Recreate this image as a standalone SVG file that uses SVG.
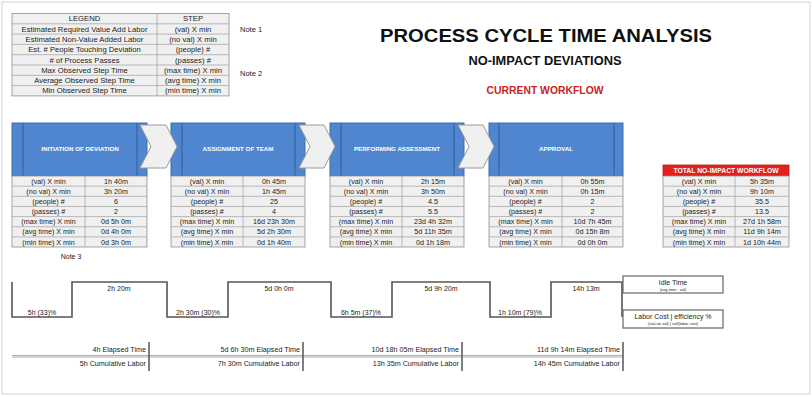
<svg xmlns="http://www.w3.org/2000/svg" width="812" height="397" viewBox="0 0 812 397">
<style>
text{font-family:"Liberation Sans",Arial,sans-serif;fill:#222}
.t{font-size:7.2px;text-anchor:middle}
.lg{font-size:7.7px;text-anchor:middle}
.r{font-size:7.2px;text-anchor:end}
.hd{font-size:6.2px;font-weight:bold;fill:#fff;text-anchor:middle}
.cell{fill:#f0f0f0;stroke:#8f8f8f;stroke-width:0.8}
.grid{stroke:#a8a8a8;stroke-width:0.8;fill:none}
.blue{fill:#4f86cf;stroke:#3b6fb2;stroke-width:1}
.bin{stroke:#2f5f9e;stroke-width:1}
.chev{fill:#f0f0f0;stroke:#9a9a9a;stroke-width:1}
.wave{fill:none;stroke:#555;stroke-width:1.6}
.box{fill:#fff;stroke:#666;stroke-width:1.2}
</style>
<rect x="2" y="2" width="808" height="392" fill="#fff" stroke="#d4d4d4" stroke-width="1"/>

<g id="legend">
<rect class="cell" x="12" y="13.5" width="217" height="82.4"/>
<path class="grid" d="M12 23.8H229M12 34.1H229M12 44.4H229M12 54.7H229M12 65H229M12 75.3H229M12 85.6H229M157 13.5V95.9"/>
<text class="lg" x="84.5" y="21.3">LEGEND</text><text class="lg" x="193" y="21.3">STEP</text>
<text class="lg" x="84.5" y="31.6">Estimated Required Value Add Labor</text><text class="lg" x="193" y="31.6">(val) X min</text>
<text class="lg" x="84.5" y="41.9">Estimated Non-Value Added Labor</text><text class="lg" x="193" y="41.9">(no val) X min</text>
<text class="lg" x="84.5" y="52.2">Est. # People Touching Deviation</text><text class="lg" x="193" y="52.2">(people) #</text>
<text class="lg" x="84.5" y="62.5"># of Process Passes</text><text class="lg" x="193" y="62.5">(passes) #</text>
<text class="lg" x="84.5" y="72.8">Max Observed Step Time</text><text class="lg" x="193" y="72.8">(max time) X min</text>
<text class="lg" x="84.5" y="83.1">Average Observed Step Time</text><text class="lg" x="193" y="83.1">(avg time)  X min</text>
<text class="lg" x="84.5" y="93.4">Min Observed Step Time</text><text class="lg" x="193" y="93.4">(min time) X min</text>
<text x="240" y="32" style="font-size:7.5px">Note 1</text>
<text x="240" y="76" style="font-size:7.5px">Note 2</text>
</g>

<g id="title">
<text x="546" y="42" textLength="332" lengthAdjust="spacingAndGlyphs" style="font-size:18.5px;font-weight:bold;text-anchor:middle;fill:#111">PROCESS CYCLE TIME ANALYSIS</text>
<text x="545" y="65" textLength="153" lengthAdjust="spacingAndGlyphs" style="font-size:12px;font-weight:bold;text-anchor:middle;fill:#111">NO-IMPACT DEVIATIONS</text>
<text x="545" y="94" textLength="117" lengthAdjust="spacingAndGlyphs" style="font-size:10px;font-weight:bold;text-anchor:middle;fill:#cc2222">CURRENT WORKFLOW</text>
</g>

<g id="step1">
<rect class="blue" x="12" y="123" width="135" height="53"/>
<path class="bin" d="M23 123V176M137 123V176"/>
<text class="hd" x="80" y="151">INITIATION OF DEVIATION</text>
<rect class="cell" x="12" y="176" width="135" height="71"/>
<path class="grid" d="M12 186.15H147M12 196.3H147M12 206.45H147M12 216.6H147M12 226.75H147M12 236.9H147M85 176V247"/>
<text class="t" x="48.5" y="183.6">(val) X min</text><text class="t" x="116" y="183.6">1h 40m</text>
<text class="t" x="48.5" y="193.75">(no val) X min</text><text class="t" x="116" y="193.75">3h 20m</text>
<text class="t" x="48.5" y="203.9">(people) #</text><text class="t" x="116" y="203.9">6</text>
<text class="t" x="48.5" y="214.05">(passes) #</text><text class="t" x="116" y="214.05">2</text>
<text class="t" x="48.5" y="224.2">(max time) X min</text><text class="t" x="116" y="224.2">0d 5h 0m</text>
<text class="t" x="48.5" y="234.35">(avg time)  X min</text><text class="t" x="116" y="234.35">0d 4h 0m</text>
<text class="t" x="48.5" y="244.5">(min time) X min</text><text class="t" x="116" y="244.5">0d 3h 0m</text>
</g>

<g id="step2">
<rect class="blue" x="171" y="123" width="134" height="53"/>
<path class="bin" d="M182 123V176M295 123V176"/>
<text class="hd" x="238" y="151">ASSIGNMENT OF TEAM</text>
<rect class="cell" x="171" y="176" width="134" height="71"/>
<path class="grid" d="M171 186.15H305M171 196.3H305M171 206.45H305M171 216.6H305M171 226.75H305M171 236.9H305M243 176V247"/>
<text class="t" x="207" y="183.6">(val) X min</text><text class="t" x="274" y="183.6">0h 45m</text>
<text class="t" x="207" y="193.75">(no val) X min</text><text class="t" x="274" y="193.75">1h 45m</text>
<text class="t" x="207" y="203.9">(people) #</text><text class="t" x="274" y="203.9">25</text>
<text class="t" x="207" y="214.05">(passes) #</text><text class="t" x="274" y="214.05">4</text>
<text class="t" x="207" y="224.2">(max time) X min</text><text class="t" x="274" y="224.2">16d 23h 30m</text>
<text class="t" x="207" y="234.35">(avg time)  X min</text><text class="t" x="274" y="234.35">5d 2h 30m</text>
<text class="t" x="207" y="244.5">(min time) X min</text><text class="t" x="274" y="244.5">0d 1h 40m</text>
</g>

<g id="step3">
<rect class="blue" x="330" y="123" width="134" height="53"/>
<path class="bin" d="M341 123V176M454 123V176"/>
<text class="hd" x="397" y="151">PERFORMING ASSESSMENT</text>
<rect class="cell" x="330" y="176" width="134" height="71"/>
<path class="grid" d="M330 186.15H464M330 196.3H464M330 206.45H464M330 216.6H464M330 226.75H464M330 236.9H464M402 176V247"/>
<text class="t" x="366" y="183.6">(val) X min</text><text class="t" x="433" y="183.6">2h 15m</text>
<text class="t" x="366" y="193.75">(no val) X min</text><text class="t" x="433" y="193.75">3h 50m</text>
<text class="t" x="366" y="203.9">(people) #</text><text class="t" x="433" y="203.9">4.5</text>
<text class="t" x="366" y="214.05">(passes) #</text><text class="t" x="433" y="214.05">5.5</text>
<text class="t" x="366" y="224.2">(max time) X min</text><text class="t" x="433" y="224.2">23d 4h 32m</text>
<text class="t" x="366" y="234.35">(avg time)  X min</text><text class="t" x="433" y="234.35">5d 11h 35m</text>
<text class="t" x="366" y="244.5">(min time) X min</text><text class="t" x="433" y="244.5">0d 1h 18m</text>
</g>

<g id="step4">
<rect class="blue" x="489" y="123" width="134" height="53"/>
<path class="bin" d="M499 123V176M614 123V176"/>
<text class="hd" x="556" y="151">APPROVAL</text>
<rect class="cell" x="489" y="176" width="134" height="71"/>
<path class="grid" d="M489 186.15H623M489 196.3H623M489 206.45H623M489 216.6H623M489 226.75H623M489 236.9H623M562 176V247"/>
<text class="t" x="525.5" y="183.6">(val) X min</text><text class="t" x="592.5" y="183.6">0h 55m</text>
<text class="t" x="525.5" y="193.75">(no val) X min</text><text class="t" x="592.5" y="193.75">0h 15m</text>
<text class="t" x="525.5" y="203.9">(people) #</text><text class="t" x="592.5" y="203.9">2</text>
<text class="t" x="525.5" y="214.05">(passes) #</text><text class="t" x="592.5" y="214.05">2</text>
<text class="t" x="525.5" y="224.2">(max time) X min</text><text class="t" x="592.5" y="224.2">10d 7h 45m</text>
<text class="t" x="525.5" y="234.35">(avg time)  X min</text><text class="t" x="592.5" y="234.35">0d 15h 8m</text>
<text class="t" x="525.5" y="244.5">(min time) X min</text><text class="t" x="592.5" y="244.5">0d 0h 0m</text>
</g>

<g id="total">
<rect x="663" y="165" width="126" height="11" fill="#e3201c" stroke="#b81a16" stroke-width="0.8"/>
<text x="726" y="173" style="font-size:6.8px;font-weight:bold;fill:#fff;text-anchor:middle">TOTAL NO-IMPACT WORKFLOW</text>
<rect class="cell" x="663" y="176" width="126" height="71"/>
<path class="grid" d="M663 186.15H789M663 196.3H789M663 206.45H789M663 216.6H789M663 226.75H789M663 236.9H789M735 176V247"/>
<text class="t" x="699" y="183.6">(val) X min</text><text class="t" x="762" y="183.6">5h 35m</text>
<text class="t" x="699" y="193.75">(no val) X min</text><text class="t" x="762" y="193.75">9h 10m</text>
<text class="t" x="699" y="203.9">(people) #</text><text class="t" x="762" y="203.9">35.5</text>
<text class="t" x="699" y="214.05">(passes) #</text><text class="t" x="762" y="214.05">13.5</text>
<text class="t" x="699" y="224.2">(max time) X min</text><text class="t" x="762" y="224.2">27d 1h 58m</text>
<text class="t" x="699" y="234.35">(avg time)  X min</text><text class="t" x="762" y="234.35">11d 9h 14m</text>
<text class="t" x="699" y="244.5">(min time) X min</text><text class="t" x="762" y="244.5">1d 10h 44m</text>
</g>

<g id="connectors">
<polygon class="chev" points="140,125 166,125 177,146.5 166,168 140,168 151,146.5"/>
<polygon class="chev" points="299,125 324,125 335,146.5 324,168 299,168 310,146.5"/>
<polygon class="chev" points="458,125 483,125 494,146.5 483,168 458,168 469,146.5"/>
</g>

<g id="timeline">
<text x="71" y="259" style="font-size:7px;text-anchor:middle">Note 3</text>
<path class="wave" d="M12 282V317H72V282H167V317H228V282H331V317H392V282H490V317H551V282H622V317"/>
<text class="t" x="42" y="315" style="font-size:7px">5h (33)%</text>
<text class="t" x="119" y="291" style="font-size:7px">2h 20m</text>
<text class="t" x="198" y="315" style="font-size:7px">2h 30m (30)%</text>
<text class="t" x="279" y="291" style="font-size:7px">5d 0h 0m</text>
<text class="t" x="361" y="315" style="font-size:7px">6h 5m (37)%</text>
<text class="t" x="441" y="291" style="font-size:7px">5d 9h 20m</text>
<text class="t" x="520" y="315" style="font-size:7px">1h 10m (79)%</text>
<text class="t" x="586" y="291" style="font-size:7px">14h 13m</text>
</g>

<g id="idle-time">
<rect class="box" x="623" y="276" width="100" height="17"/>
<text class="t" x="673" y="284.5" style="font-size:7px">Idle Time</text>
<text class="t" x="673" y="290.5" style="font-size:4px">(avg time - val)</text>
</g>

<g id="labor-cost">
<rect class="box" x="623" y="310" width="100" height="18"/>
<text class="t" x="673" y="318.5" style="font-size:7px">Labor Cost | efficiency %</text>
<text class="t" x="673" y="325" style="font-size:4px">(val+no val) | val/(labor cost)</text>
</g>

<g id="summary">
<path d="M12 355.5H623M12 357H623" stroke="#9a9a9a" stroke-width="0.8" fill="none"/>
<path d="M149 342V371M303 342V371M462 342V371M623 342V371" stroke="#555" stroke-width="1.5" fill="none"/>
<text class="r" x="146" y="352">4h Elapsed Time</text>
<text class="r" x="146" y="366">5h Cumulative Labor</text>
<text class="r" x="300" y="352">5d 6h 30m Elapsed Time</text>
<text class="r" x="300" y="366">7h 30m Cumulative Labor</text>
<text class="r" x="459" y="352">10d 18h 05m Elapsed Time</text>
<text class="r" x="459" y="366">13h 35m Cumulative Labor</text>
<text class="r" x="620" y="352">11d 9h 14m Elapsed Time</text>
<text class="r" x="620" y="366">14h 45m Cumulative Labor</text>
</g>
</svg>
